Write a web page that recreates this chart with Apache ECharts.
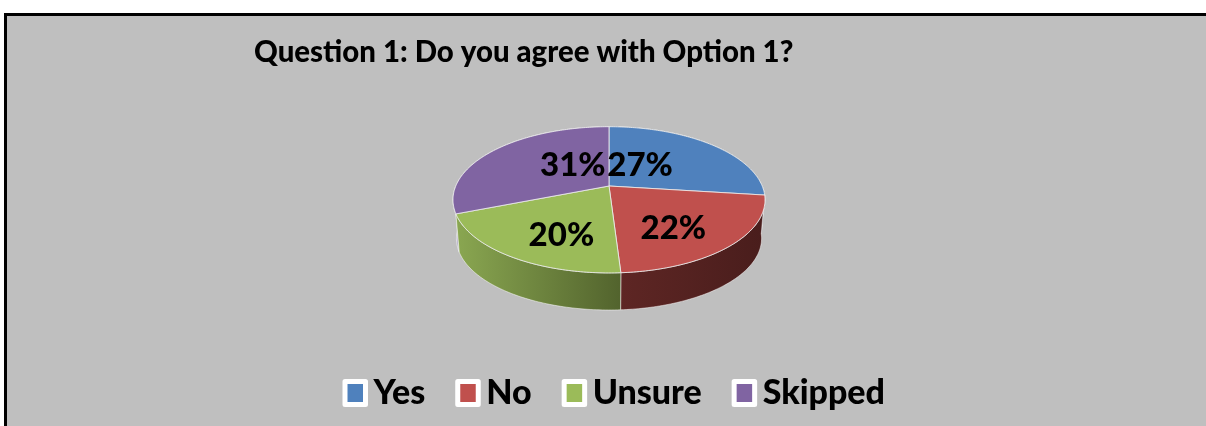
<!DOCTYPE html>
<html>
<head>
<meta charset="utf-8">
<style>html,body{margin:0;padding:0;background:#fff}#c{width:1206px;height:426px}</style>
<script src="https://cdn.jsdelivr.net/npm/echarts@6/dist/echarts.min.js"></script>
</head>
<body>
<div id="c"></div>
<script>
const categories = ['Yes', 'No', 'Unsure', 'Skipped'];
const percents = [27, 22, 20, 31];
const colors = ['#4f81bd', '#c0504d', '#9bbb59', '#8064a2'];
const wallStops = [
  ['#2f4d71', '#2f4d71'],
  ['#5e2624', '#491d1c'],
  ['#8aa751', '#52632d'],
  ['#b5aec8', '#b5aec8']
];
const labelNudge = [[-23, 1], [8, 15], [-3, 17], [24, -2]];
const titleText = 'Question 1: Do you agree with Option 1?';

// Tilted-disc projection of the pie (perspective, so the hub sits above the ellipse centre)
const disc = { cx: 609, cy: 186, a: 153.2, b: 70.5, p: 0.189, depth: 39, shrink: 0.978 };
const total = percents.reduce((s, v) => s + v, 0);

function project(theta, r) {
  const u = Math.sin(theta) * r, v = -Math.cos(theta) * r;
  const d = 1 - disc.p * v;
  return [disc.cx + disc.a * u / d, disc.cy + disc.b * v / d];
}
function lower(pt) {
  return [disc.cx + (pt[0] - disc.cx) * disc.shrink,
          disc.cy + (pt[1] - disc.cy) * disc.shrink + disc.depth];
}
function arc(t0, t1) {
  const pts = [], n = Math.max(8, Math.ceil((t1 - t0) * 60));
  for (let i = 0; i <= n; i++) pts.push(project(t0 + (t1 - t0) * i / n, 1));
  return pts;
}

function makeRender(idx) {
  return function (params, api) {
    const before = percents.slice(0, idx).reduce((s, v) => s + v, 0);
    const t0 = before / total * 2 * Math.PI;
    const t1 = (before + api.value(0)) / total * 2 * Math.PI;
    const rim = arc(t0, t1);
    const hub = project(0, 0);
    const mid = project((t0 + t1) / 2, 0.5);
    const wall = rim.concat(rim.map(lower).reverse());
    return {
      type: 'group',
      children: [
        {
          type: 'polygon', z2: idx === 3 ? 0 : 1, silent: true,
          shape: { points: wall },
          style: {
            fill: new echarts.graphic.LinearGradient(0, 0, 1, 0, [
              { offset: 0, color: wallStops[idx][0] },
              { offset: 1, color: wallStops[idx][1] }
            ]),
            stroke: 'rgba(255,255,255,0.5)', lineWidth: 1
          }
        },
        {
          type: 'polygon', z2: 2, silent: true,
          shape: { points: [hub].concat(rim) },
          style: { fill: colors[idx], stroke: 'rgba(235,235,235,0.85)', lineWidth: 1 }
        },
        {
          type: 'text', z2: 3, silent: true,
          x: mid[0] + labelNudge[idx][0], y: mid[1] + labelNudge[idx][1],
          style: {
            text: api.value(0) + '%', fill: '#000',
            font: '900 33px Lato', align: 'center', verticalAlign: 'middle'
          }
        }
      ]
    };
  };
}

const chart = echarts.init(document.getElementById('c'), null, { renderer: 'canvas' });
chart.setOption({
  animation: false,
  backgroundColor: '#ffffff',
  graphic: [{
    type: 'rect', z: -10, silent: true,
    shape: { x: 5.5, y: 14.5, width: 1300, height: 500 },
    style: { fill: '#bfbfbf', stroke: '#000', lineWidth: 3 }
  }],
  title: {
    text: titleText, left: 254, top: 36, padding: 0,
    textStyle: { fontFamily: 'Lato', fontWeight: 900, fontSize: 29.4, color: '#000', lineHeight: 34 }
  },
  legend: {
    left: 342.5, top: 376, padding: 0, itemGap: 30,
    itemWidth: 20.5, itemHeight: 23,
    icon: 'rect', selectedMode: false,
    itemStyle: { borderColor: '#fff', borderWidth: 5, borderJoin: 'round' },
    textStyle: { fontFamily: 'Lato', fontWeight: 900, fontSize: 34, color: '#000', padding: [0, 0, 4, 3] },
    data: categories.map((n, i) => ({ name: n, itemStyle: { color: colors[i] } }))
  },
  series: categories.map((n, i) => ({
    type: 'custom', name: n, coordinateSystem: 'none',
    itemStyle: { color: colors[i] },
    renderItem: makeRender(i),
    data: [[percents[i]]]
  }))
});
</script>
</body>
</html>
